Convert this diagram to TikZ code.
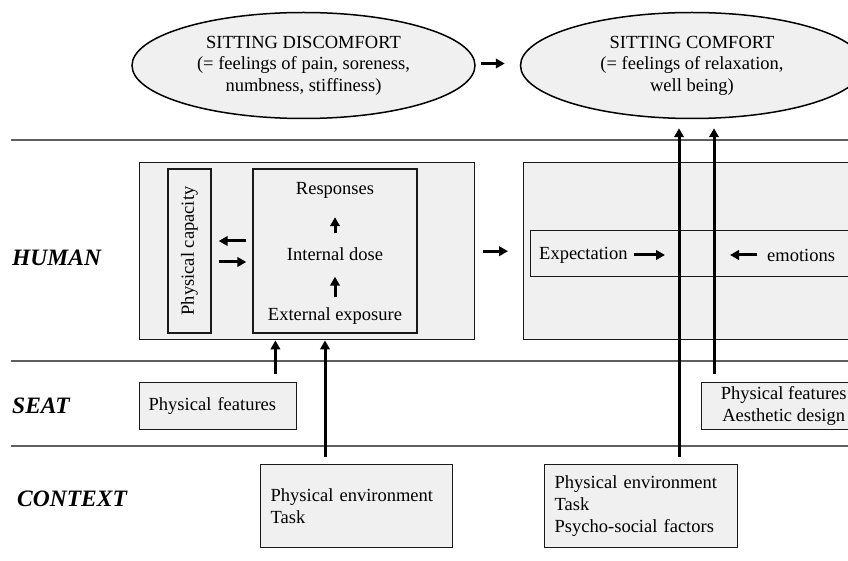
\documentclass[tikz,border=0pt]{standalone}
\usepackage{fontspec}
\setmainfont{Liberation Serif}
\usetikzlibrary{positioning,shapes.geometric,arrows.meta}
\definecolor{cfill}{RGB}{240,240,240}
\definecolor{cline}{RGB}{95,95,95}

\begin{document}
\begin{tikzpicture}[x=1pt, y=-1pt,
    box/.style={draw=black!90, fill=cfill, line width=1.4pt, inner sep=0pt, font=\fontsize{18.5}{22}\selectfont},
    oval/.style={ellipse, draw=black, fill=cfill, line width=1.5pt, minimum width=343pt, minimum height=106pt,
                 align=center, inner sep=0pt, font=\fontsize{18.5}{21.5}\selectfont},
    txt/.style={inner sep=0pt, font=\fontsize{18.5}{21.5}\selectfont},
    tag/.style={anchor=west, inner sep=0pt, font=\fontsize{23.5}{27}\selectfont\bfseries\itshape},
    sep/.style={draw=cline, line width=1.1pt},
    >={Triangle[length=9pt,width=9.5pt]}, arrow/.style={->, line width=3pt}
  ]
  \useasboundingbox (0,0) rectangle (848,561);
  \fill[white] (0,0) rectangle (848,561);
  \clip (0,0) rectangle (848,561);

  % rows
  \foreach \y in {140,361,446}
    \draw[sep] (11,\y) -- (848,\y);
  \node[tag] (lhum) at (12,258) {HUMAN};
  \node[tag] (lseat) at (12,406) {SEAT};
  \node[tag] (lctx) at (17,499) {CONTEXT};

  % outcomes
  \node[oval] (disc) at (303.5,65.5) {SITTING DISCOMFORT\\(= feelings of pain, soreness,\\numbness, stiffiness)};
  \node[oval] (comf) at (692,65.5) {SITTING COMFORT\\(= feelings of relaxation,\\well being)};
  \draw[arrow, shorten <=5pt, shorten >=15pt] ([yshift=2pt]disc.east) -- ([yshift=2pt]comf.west);

  % human, left part
  \node[box, anchor=north west, minimum width=335, minimum height=177] (hbox) at (139,162) {};
  \node[box, minimum width=43, minimum height=164] (cap) at (189.5,251) {\rotatebox{90}{Physical capacity}};
  \node[box, minimum width=164, minimum height=164] (expo) at (335,251) {};
  \node[txt] (resp) at (335,190) {Responses};
  \node[txt] (idose) at (335,254) {Internal dose};
  \node[txt] (ext) at (335,316) {External exposure};
  \draw[arrow, shorten <=10pt, shorten >=16pt] (ext) -- (idose);
  \draw[arrow, shorten <=14pt, shorten >=19pt] (idose) -- (resp);
  \draw[arrow, shorten <=6pt, shorten >=7pt] ([yshift=10pt]expo.west) -- ([yshift=10pt]expo.west -| cap.east);
  \draw[arrow, shorten <=7pt, shorten >=6pt] ([yshift=-11pt]cap.east) -- ([yshift=-11pt]cap.east -| expo.west);

  % human, right part
  \node[box, anchor=north west, minimum width=400, minimum height=177] (rbox) at (523,162) {};
  \draw[arrow, shorten <=8pt, shorten >=15pt] (hbox) -- (rbox);
  \node[box, anchor=north west, minimum width=400, minimum height=46] (expb) at (530,230) {};
  \node[txt, anchor=west] (expt) at (539,255) {Expectation};
  \node[txt, anchor=west] (emo) at (767,255) {emotions};
  \coordinate (meet) at (697,256);
  \draw[arrow, shorten <=6pt, shorten >=32pt] (expt.east) -- (expt.east -| meet);
  \draw[arrow, shorten <=10pt, shorten >=33pt] (emo.west) -- (emo.west -| meet);

  % seat
  \node[box, anchor=north west, minimum height=47, text width=139, inner xsep=9pt, align=left] (seat1) at (139,382) {Physical features};
  \node[box, anchor=north west, minimum width=164, minimum height=47, align=center] (seat2) at (701,382) {Physical features\\Aesthetic design};

  % context
  \node[box, anchor=north west, minimum height=83, text width=172, inner xsep=10pt, align=left] (ctx1) at (260,464) {Physical environment\\Task};
  \node[box, anchor=north west, minimum height=83, text width=173, inner xsep=10pt, align=left] (ctx2) at (544,464) {Physical environment\\Task\\Psycho-social factors};

  % influences
  \draw[arrow, shorten <=8pt] ([xshift=-22pt]seat1.north east) -- ([xshift=-22pt]seat1.north east |- hbox.south);
  \draw[arrow, shorten <=7pt] ([xshift=65pt]ctx1.north west) -- ([xshift=65pt]ctx1.north west |- hbox.south);
  \draw[arrow, shorten <=7pt, shorten >=9pt] ([xshift=-13pt]comf.south |- ctx2.north) -- ([xshift=-13pt]comf.south);
  \draw[arrow, shorten <=8pt, shorten >=9pt] ([xshift=22pt]comf.south |- seat2.north) -- ([xshift=22pt]comf.south);
\end{tikzpicture}
\end{document}
